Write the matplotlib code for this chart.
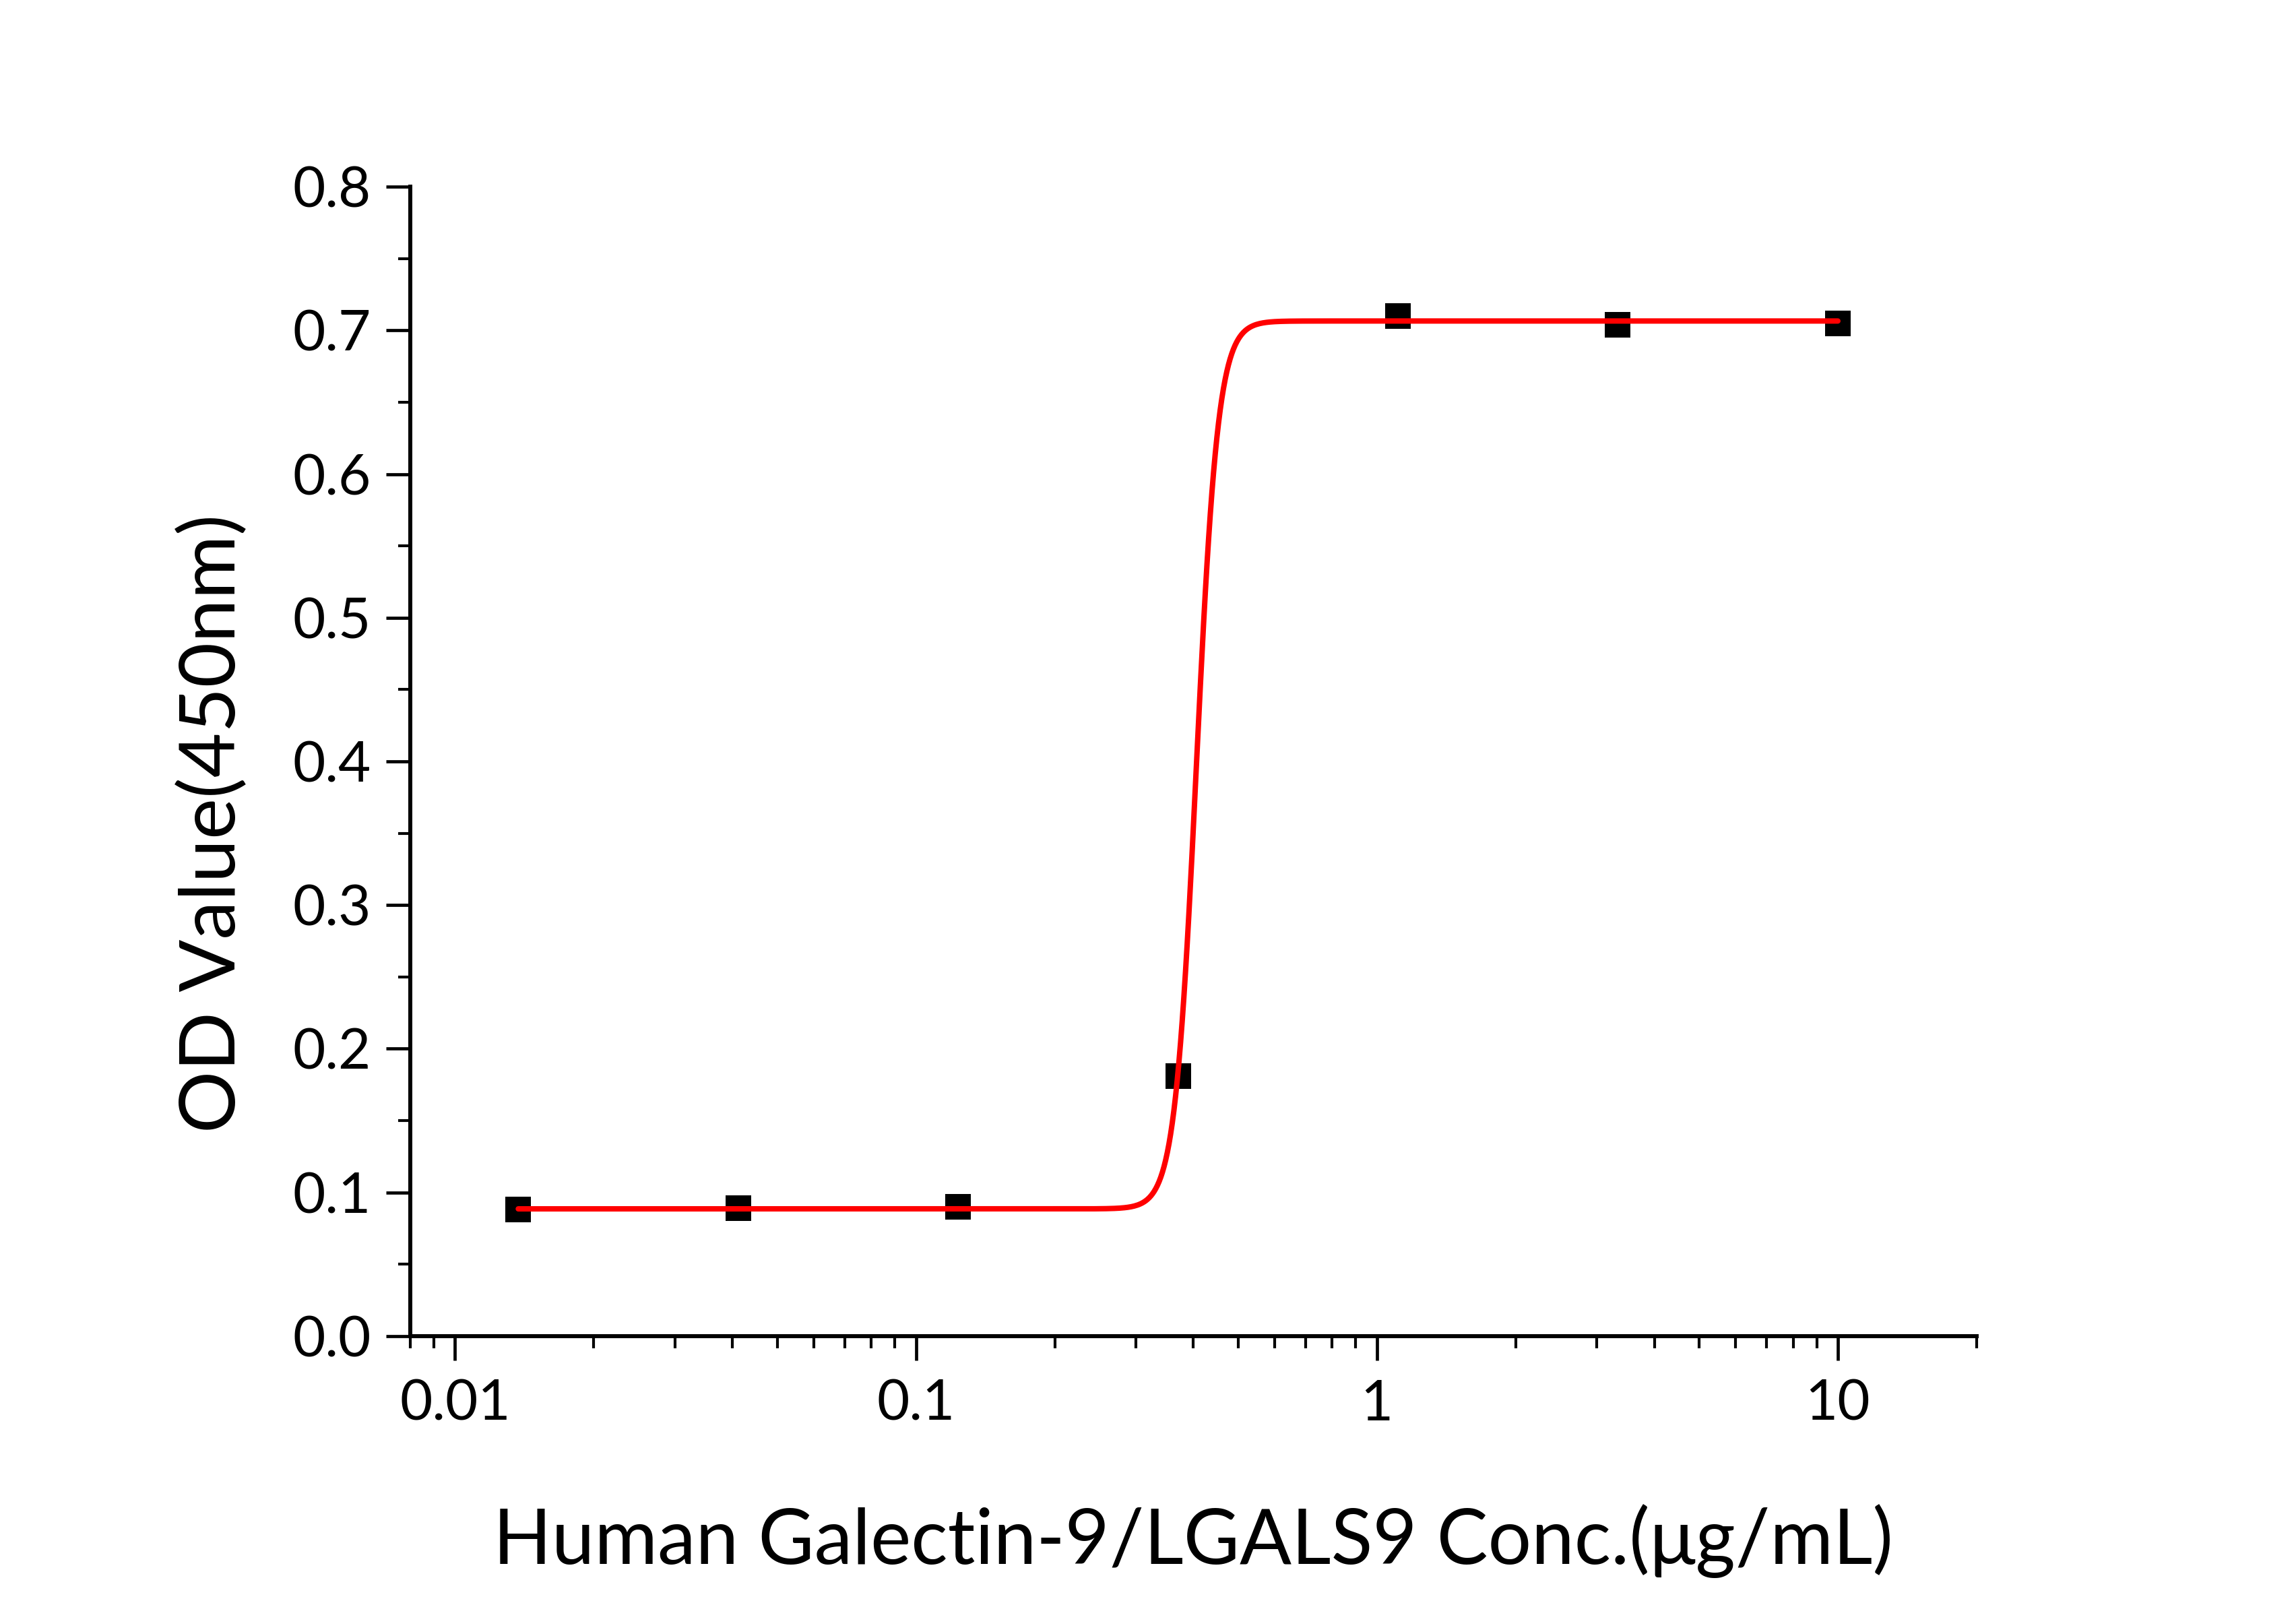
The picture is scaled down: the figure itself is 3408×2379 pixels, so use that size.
import numpy as np
import matplotlib
matplotlib.use('Agg')
import matplotlib.pyplot as plt
from matplotlib.ticker import MultipleLocator, LogLocator, FixedLocator, FixedFormatter

plt.rcParams['font.family'] = ['Lato', 'DejaVu Sans']

# 测量数据 (3倍梯度稀释)
conc = [0.01372, 0.04115, 0.1235, 0.3704, 1.111, 3.333, 10.0]
od = [0.088, 0.089, 0.090, 0.181, 0.710, 0.704, 0.705]

# 四参数拟合结果
fit_bottom = 0.0886
fit_top = 0.7065
fit_ec50 = 0.406
fit_hill = 18.5

xticks = [0.01, 0.1, 1, 10]
xtick_labels = ['0.01', '0.1', '1', '10']
yticks = [0.0, 0.1, 0.2, 0.3, 0.4, 0.5, 0.6, 0.7, 0.8]
ytick_labels = ['0.0', '0.1', '0.2', '0.3', '0.4', '0.5', '0.6', '0.7', '0.8']


def logistic4(x):
    return fit_bottom + (fit_top - fit_bottom) / (1 + (fit_ec50 / x) ** fit_hill)


fig = plt.figure(figsize=(34.08, 23.79), dpi=100)
ax = fig.add_axes([0.1787, 0.16646, 0.8609 - 0.1787, 0.88356 - 0.16646])

xs = np.logspace(np.log10(conc[0]), np.log10(conc[-1]), 800)
ax.plot(xs, logistic4(xs), color='red', lw=5.8, zorder=3, solid_capstyle='round')
ax.plot(conc, od, 's', color='black', markersize=27, markeredgewidth=0, zorder=2)

ax.set_xscale('log')
ax.set_xlim(0.008, 20)
ax.set_ylim(0, 0.8)

ax.xaxis.set_major_locator(FixedLocator(xticks))
ax.xaxis.set_major_formatter(FixedFormatter(xtick_labels))
ax.xaxis.set_minor_locator(LogLocator(base=10, subs=np.arange(2, 10)))
ax.yaxis.set_major_locator(FixedLocator(yticks))
ax.yaxis.set_major_formatter(FixedFormatter(ytick_labels))
ax.yaxis.set_minor_locator(MultipleLocator(0.05))

for s in ['top', 'right']:
    ax.spines[s].set_visible(False)
for s in ['left', 'bottom']:
    ax.spines[s].set_linewidth(4.3)

ax.tick_params(which='major', direction='out', length=26, width=3.4, labelsize=60)
ax.tick_params(axis='x', which='major', pad=20)
ax.tick_params(axis='y', which='major', pad=16)
ax.tick_params(which='minor', direction='out', length=13, width=3.0)

ax.set_xlabel('Human Galectin-9/LGALS9 Conc.(μg/mL)', fontsize=82)
ax.set_ylabel('OD Value(450nm)', fontsize=83)
ax.xaxis.label.set_va('center')
ax.yaxis.label.set_va('center')
ax.xaxis.set_label_coords(0.5, -0.178)
ax.yaxis.set_label_coords(-0.126, 0.446)

fig.savefig('out.png', dpi=100, facecolor='white')
